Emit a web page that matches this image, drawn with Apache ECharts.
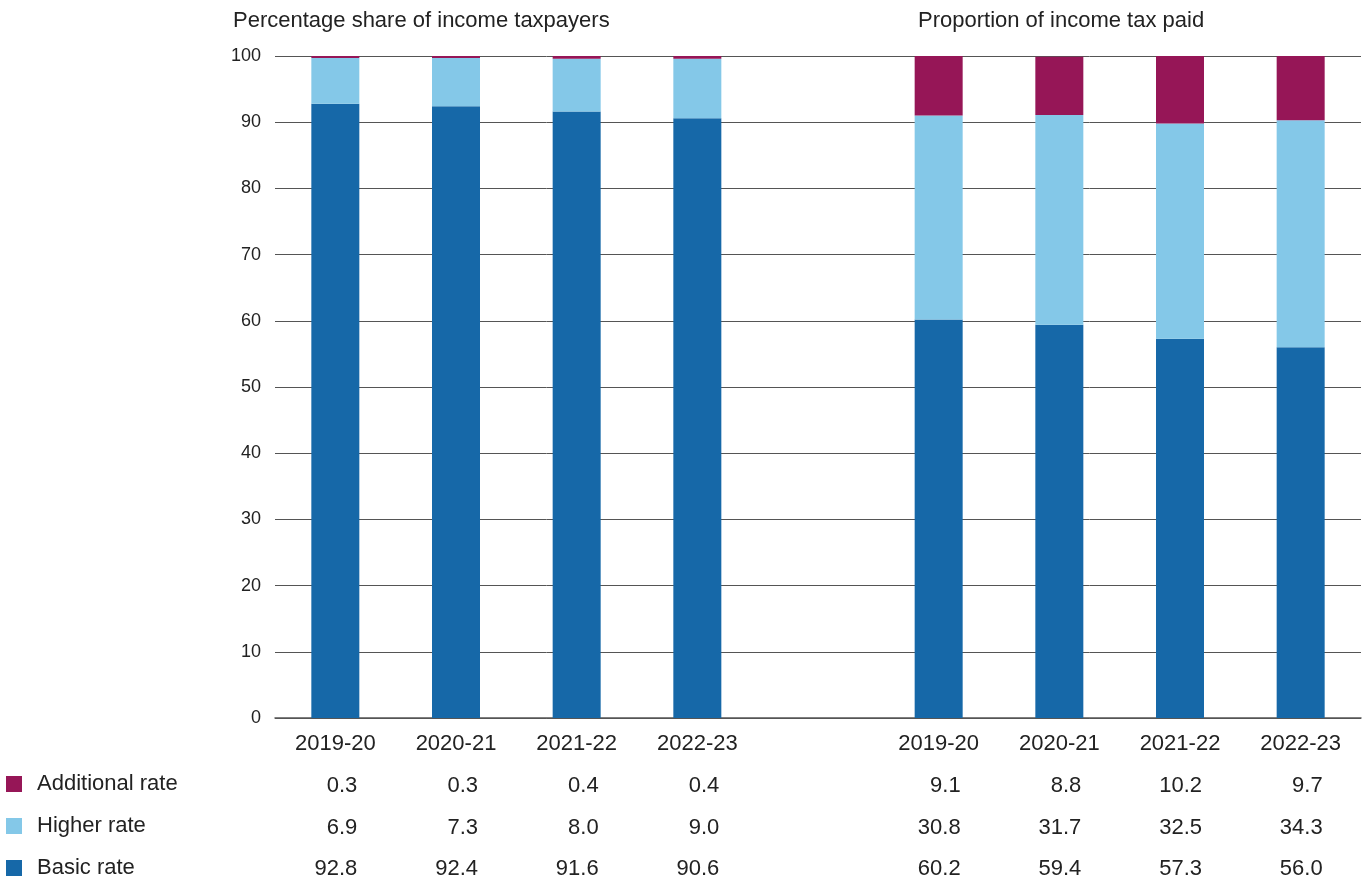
<!DOCTYPE html>
<html>
<head>
<meta charset="utf-8">
<script src="https://cdn.jsdelivr.net/npm/echarts@6/dist/echarts.min.js"></script>
<style>
  html, body { margin: 0; padding: 0; background: #fff; }
  #chart { width: 1370px; height: 883px; }
</style>
</head>
<body>
<div id="chart"></div>
<script>
// Tax years shown in each panel
const years = ['2019-20', '2020-21', '2021-22', '2022-23'];

// Percentage share of income taxpayers, by band
const shareBasic = [92.8, 92.4, 91.6, 90.6];
const shareHigher = [6.9, 7.3, 8.0, 9.0];
const shareAdditional = [0.3, 0.3, 0.4, 0.4];

// Proportion of income tax paid, by band
const paidBasic = [60.2, 59.4, 57.3, 56.0];
const paidHigher = [30.8, 31.7, 32.5, 34.3];
const paidAdditional = [9.1, 8.8, 10.2, 9.7];

const panelTitles = ['Percentage share of income taxpayers', 'Proportion of income tax paid'];
const bandNames = ['Additional rate', 'Higher rate', 'Basic rate'];
const yTicks = [0, 10, 20, 30, 40, 50, 60, 70, 80, 90, 100];

const colors = {
  'Basic rate': '#1668a8',
  'Higher rate': '#84c8e8',
  'Additional rate': '#961657'
};

// Both panels share one category axis with an empty slot between them
const join = (a, b) => a.concat([null], b);
const categories = join(years, years);
const basic = join(shareBasic, paidBasic);
const higher = join(shareHigher, paidHigher);
const additional = join(shareAdditional, paidAdditional);

const FONT = '"Liberation Sans", Arial, sans-serif';
const TXT = '#222';
const FS = 22;     // titles, categories, table and legend
const FS_Y = 18;   // value axis ticks

// A row of the data table under the bars, drawn as an extra category axis
function valueAxis(values, offset) {
  return {
    type: 'category',
    data: values.map(v => v == null ? '' : v.toFixed(1)),
    position: 'bottom',
    offset: offset,
    axisLine: { show: false },
    axisTick: { show: false },
    axisLabel: {
      interval: 0,
      margin: 14,
      formatter: v => v === '' ? '' : '{v|' + v + '}',
      rich: { v: { width: 44, align: 'right', fontSize: FS, fontFamily: FONT, color: TXT } }
    }
  };
}

const chart = echarts.init(document.getElementById('chart'), null, { renderer: 'canvas' });

chart.setOption({
  animation: false,
  backgroundColor: '#fff',
  textStyle: { fontFamily: FONT },
  title: [
    { text: panelTitles[0], left: 228, top: 5, textStyle: { fontSize: FS, fontWeight: 'normal', color: TXT, fontFamily: FONT } },
    { text: panelTitles[1], left: 913, top: 5, textStyle: { fontSize: FS, fontWeight: 'normal', color: TXT, fontFamily: FONT } }
  ],
  legend: {
    data: bandNames,
    orient: 'vertical',
    left: 6,
    top: 773,
    height: 200,
    padding: 0,
    icon: 'rect',
    itemWidth: 16,
    itemHeight: 16,
    itemGap: 20,
    selectedMode: false,
    textStyle: { fontSize: FS, color: TXT, fontFamily: FONT, padding: [0, 0, 0, 10], lineHeight: 22 }
  },
  grid: { left: 275, right: 9, top: 56, bottom: 165, containLabel: false },
  xAxis: [
    {
      type: 'category',
      data: categories.map(c => c == null ? '' : c),
      axisLine: { lineStyle: { color: '#555', width: 1.5 } },
      axisTick: { show: false },
      axisLabel: { interval: 0, margin: 15, fontSize: FS, color: TXT, fontFamily: FONT }
    },
    valueAxis(additional, 43),
    valueAxis(higher, 85),
    valueAxis(basic, 126)
  ],
  yAxis: {
    type: 'value',
    min: 0,
    max: 100,
    interval: 10,
    axisLine: { show: false },
    axisTick: { show: false },
    axisLabel: {
      margin: 14,
      fontSize: FS_Y,
      color: TXT,
      fontFamily: FONT,
      formatter: v => yTicks.indexOf(v) >= 0 ? String(v) : ''
    },
    splitLine: { lineStyle: { color: '#555', width: 1 } }
  },
  series: [
    { name: 'Basic rate', type: 'bar', stack: 'band', data: basic, barWidth: 48, itemStyle: { color: colors['Basic rate'] } },
    { name: 'Higher rate', type: 'bar', stack: 'band', data: higher, barWidth: 48, itemStyle: { color: colors['Higher rate'] } },
    { name: 'Additional rate', type: 'bar', stack: 'band', data: additional, barWidth: 48, itemStyle: { color: colors['Additional rate'] } }
  ]
});
</script>
</body>
</html>
